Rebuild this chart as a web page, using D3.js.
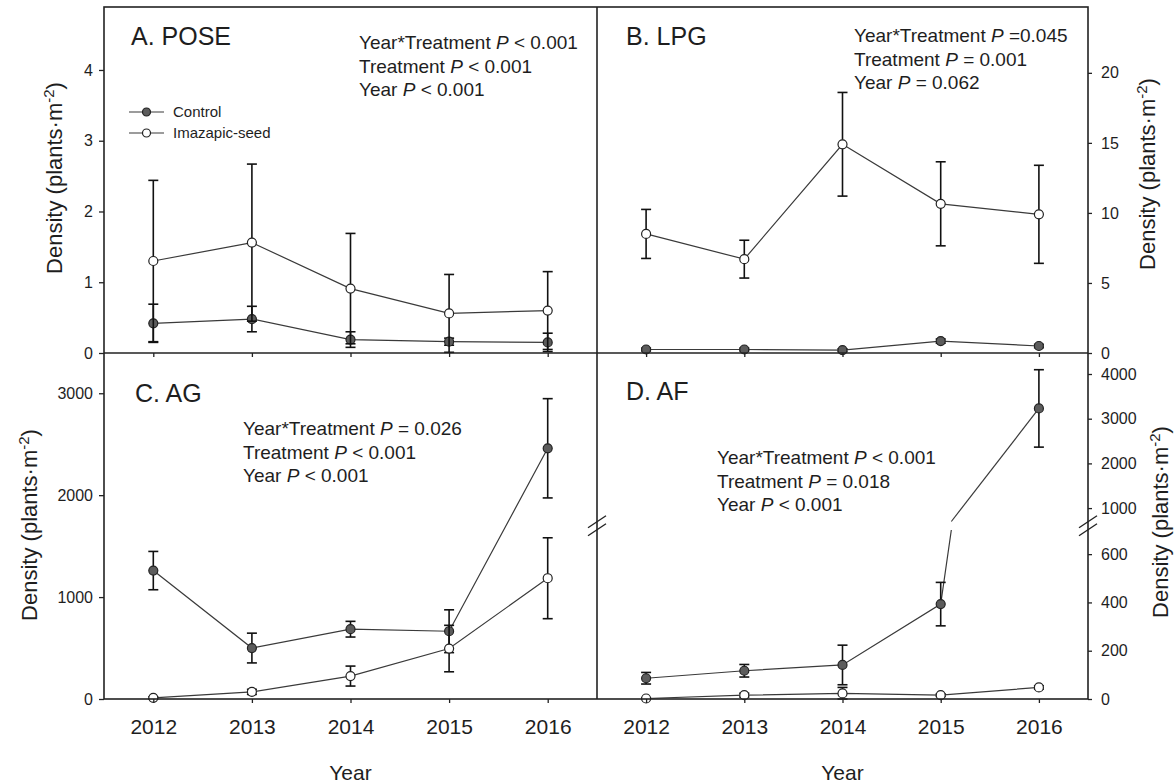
<!DOCTYPE html>
<html>
<head>
<meta charset="utf-8">
<script src="https://cdn.jsdelivr.net/npm/d3@7"></script>
<style>
  body { margin: 0; background: #fff; }
  text { font-family: "Liberation Sans", Arial, sans-serif; fill: #1e1e1e; }
</style>
</head>
<body>
<svg id="chart" width="1174" height="784"></svg>
<script>
// Years on the x axis.
const years = [2012, 2013, 2014, 2015, 2016];

// A. POSE
const poseControl = [0.42, 0.48, 0.19, 0.16, 0.15];
const poseControlSE = [0.27, 0.18, 0.11, 0.05, 0.13];
const poseSeed = [1.30, 1.56, 0.91, 0.56, 0.60];
const poseSeedSE = [1.14, 1.11, 0.78, 0.55, 0.55];

// B. LPG
const lpgControl = [0.25, 0.25, 0.2, 0.85, 0.5];
const lpgControlSE = [0.1, 0.1, 0.1, 0.15, 0.12];
const lpgSeed = [8.5, 6.7, 14.9, 10.65, 9.9];
const lpgSeedSE = [1.75, 1.35, 3.7, 3.0, 3.5];

// C. AG
const agControl = [1260, 500, 685, 665, 2460];
const agControlSE = [188, 146, 77, 210, 487];
const agSeed = [12, 70, 225, 495, 1185];
const agSeedSE = [10, 25, 98, 228, 397];

// D. AF
const afControl = [86, 117, 141, 393, 3230];
const afControlSE = [24, 26, 82, 90, 866];
const afSeed = [2, 16, 23, 16, 48];
const afSeedSE = [3, 8, 25, 5, 7];

// Tick values.
const poseTicks = [0, 1, 2, 3, 4];
const lpgTicks = [0, 5, 10, 15, 20];
const agTicks = [0, 1000, 2000, 3000];
const afTicksLow = [0, 200, 400, 600];
const afTicksHigh = [1000, 2000, 3000, 4000];

// Panel texts.
const panelTitles = ["A. POSE", "B. LPG", "C. AG", "D. AF"];
const poseStats = [["Year*Treatment ", " < 0.001"], ["Treatment ", " < 0.001"], ["Year ", " < 0.001"]];
const lpgStats = [["Year*Treatment ", " =0.045"], ["Treatment ", " = 0.001"], ["Year ", " = 0.062"]];
const agStats = [["Year*Treatment ", " = 0.026"], ["Treatment ", " < 0.001"], ["Year ", " < 0.001"]];
const afStats = [["Year*Treatment ", " < 0.001"], ["Treatment ", " = 0.018"], ["Year ", " < 0.001"]];
const legendLabels = ["Control", "Imazapic-seed"];

const svg = d3.select("#chart");

// Frame geometry.
const leftX = 104, midX = 597, rightX = 1088;
const topY = 7, midY = 353, bottomY = 699;
const afBreak = 700;

const xLeft = d3.scaleLinear().domain([2011.5, 2016.5]).range([leftX, midX]);
const xRight = d3.scaleLinear().domain([2011.5, 2016.5]).range([midX, rightX]);

const yA = d3.scaleLinear().domain([0, 4.89]).range([midY, topY]);
const yB = d3.scaleLinear().domain([0, 24.7]).range([midY, topY]);
const yC = d3.scaleLinear().domain([0, 3395]).range([bottomY, midY]);
const yDlow = d3.scaleLinear().domain([0, afBreak]).range([bottomY, 530]);
const yDhigh = d3.scaleLinear().domain([afBreak, 4470]).range([521.5, midY]);

function yD(v, side) {
    // Picks the lower or the upper part of the broken axis.
    if (side === "high" || (side === undefined && v > afBreak)) return yDhigh(v);
    return yDlow(v);
}

function wrap(scale) {
    return function(v) { return scale(v); };
}

function linePieces(vals, brk) {
    // Splits a series into pieces where it crosses the axis break.
    let out = [];
    let cur = [{x: years[0], v: vals[0]}];
    for (let i = 1; i < vals.length; i++) {
        let a = vals[i - 1], b = vals[i];
        if (brk !== undefined && (a - brk) * (b - brk) < 0) {
            let t = (brk - a) / (b - a);
            let xc = years[i - 1] + t;
            cur.push({x: xc, v: brk, side: a < brk ? "low" : "high"});
            out.push(cur);
            cur = [{x: xc, v: brk, side: a < brk ? "high" : "low"}, {x: years[i], v: b}];
        } else {
            cur.push({x: years[i], v: b});
        }
    }
    out.push(cur);
    return out;
}

function drawSeries(x, y, vals, se, filled, brk) {
    let g = svg.append("g");

    let line = d3.line()
        .x(d => x(d.x))
        .y(d => y(d.v, d.side));

    linePieces(vals, brk).forEach(function(p) {
        g.append("path")
            .attr("d", line(p))
            .attr("fill", "none")
            .attr("stroke", "#3a3a3a")
            .attr("stroke-width", 1.2);
    });

    return {g: g, vals: vals, se: se, filled: filled, x: x, y: y};
}

function drawErrors(s) {
    s.vals.forEach(function(v, i) {
        let lo = Math.max(0, v - s.se[i]);
        let hi = v + s.se[i];
        let cx = s.x(years[i]);
        let yl = s.y(lo), yh = s.y(hi);
        s.g.append("line").attr("x1", cx).attr("x2", cx).attr("y1", yl).attr("y2", yh)
            .attr("stroke", "#111").attr("stroke-width", 1.6);
        [yl, yh].forEach(function(yy) {
            s.g.append("line").attr("x1", cx - 5).attr("x2", cx + 5).attr("y1", yy).attr("y2", yy)
                .attr("stroke", "#111").attr("stroke-width", 1.6);
        });
    });
}

function drawMarkers(s) {
    s.vals.forEach(function(v, i) {
        s.g.append("circle")
            .attr("cx", s.x(years[i]))
            .attr("cy", s.y(v))
            .attr("r", 4.5)
            .attr("fill", s.filled ? "#5c5c5c" : "#fff")
            .attr("stroke", "#222")
            .attr("stroke-width", 1.2);
    });
}

function drawPanel(x, y, ctrl, ctrlSE, seed, seedSE, brk) {
    let sc = drawSeries(x, y, ctrl, ctrlSE, true, brk);
    let ss = drawSeries(x, y, seed, seedSE, false, brk);
    drawErrors(sc);
    drawErrors(ss);
    drawMarkers(sc);
    drawMarkers(ss);
}

drawPanel(xLeft, wrap(yA), poseControl, poseControlSE, poseSeed, poseSeedSE);
drawPanel(xRight, wrap(yB), lpgControl, lpgControlSE, lpgSeed, lpgSeedSE);
drawPanel(xLeft, wrap(yC), agControl, agControlSE, agSeed, agSeedSE);
drawPanel(xRight, yD, afControl, afControlSE, afSeed, afSeedSE, afBreak);

// Axes.
const plain = d => String(d);

function styleAxis(g, size) {
    g.select(".domain").remove();
    g.selectAll(".tick line").attr("stroke", "#222").attr("stroke-width", 1.3);
    g.selectAll(".tick text")
        .style("font-family", "'Liberation Sans', Arial, sans-serif")
        .style("font-size", size + "px")
        .attr("fill", "#1e1e1e");
}

svg.append("g").attr("transform", `translate(${leftX},0)`)
    .call(d3.axisLeft(yA).tickValues(poseTicks).tickFormat(plain).tickSize(5).tickPadding(6))
    .call(g => styleAxis(g, 16));

svg.append("g").attr("transform", `translate(${rightX},0)`)
    .call(d3.axisRight(yB).tickValues(lpgTicks).tickFormat(plain).tickSize(4).tickPadding(9))
    .call(g => styleAxis(g, 16));

svg.append("g").attr("transform", `translate(${leftX},0)`)
    .call(d3.axisLeft(yC).tickValues(agTicks).tickFormat(plain).tickSize(5).tickPadding(6))
    .call(g => styleAxis(g, 16));

svg.append("g").attr("transform", `translate(${rightX},0)`)
    .call(d3.axisRight(yDlow).tickValues(afTicksLow).tickFormat(plain).tickSize(4).tickPadding(9))
    .call(g => styleAxis(g, 16));

svg.append("g").attr("transform", `translate(${rightX},0)`)
    .call(d3.axisRight(yDhigh).tickValues(afTicksHigh).tickFormat(plain).tickSize(4).tickPadding(9))
    .call(g => styleAxis(g, 16));

[xLeft, xRight].forEach(function(x) {
    svg.append("g").attr("transform", `translate(0,${bottomY})`)
        .call(d3.axisBottom(x).tickValues(years).tickFormat(plain).tickSize(4).tickPadding(16))
        .call(g => styleAxis(g, 21));

    svg.append("g").attr("transform", `translate(0,${midY})`)
        .call(d3.axisBottom(x).tickValues(years).tickFormat("").tickSize(4))
        .call(g => styleAxis(g, 16));
});

// Frames.
const frame = svg.append("g").attr("stroke", "#222").attr("stroke-width", 1.6).attr("fill", "none");
frame.append("rect").attr("x", leftX).attr("y", topY).attr("width", rightX - leftX).attr("height", bottomY - topY);
frame.append("line").attr("x1", midX).attr("x2", midX).attr("y1", topY).attr("y2", bottomY);
frame.append("line").attr("x1", leftX).attr("x2", rightX).attr("y1", midY).attr("y2", midY);

// Break marks on the D axis.
const breakY = (yDlow(afBreak) + yDhigh(afBreak)) / 2;
[midX, rightX].forEach(function(bx) {
    [-4, 4].forEach(function(dy) {
        svg.append("line")
            .attr("x1", bx - 9).attr("y1", breakY + dy + 6)
            .attr("x2", bx + 9).attr("y2", breakY + dy - 6)
            .attr("stroke", "#222").attr("stroke-width", 1.3);
    });
});

// Titles.
const titlePos = [[131, 45], [626, 45], [135, 402], [626, 400]];
panelTitles.forEach(function(t, i) {
    svg.append("text").attr("x", titlePos[i][0]).attr("y", titlePos[i][1])
        .style("font-size", "25px").text(t);
});

// Statistics text.
function drawStats(lines, x, y0) {
    lines.forEach(function(l, i) {
        let t = svg.append("text").attr("x", x).attr("y", y0 + i * 23.5).style("font-size", "19px");
        t.append("tspan").text(l[0]);
        t.append("tspan").style("font-style", "italic").text("P");
        t.append("tspan").text(l[1]);
    });
}
drawStats(poseStats, 359, 49);
drawStats(lpgStats, 854, 42);
drawStats(agStats, 243, 435);
drawStats(afStats, 717, 464);

// Legend.
legendLabels.forEach(function(lab, i) {
    let ly = 112 + i * 21;
    svg.append("line").attr("x1", 129).attr("x2", 164).attr("y1", ly).attr("y2", ly)
        .attr("stroke", "#3a3a3a").attr("stroke-width", 1.2);
    svg.append("circle").attr("cx", 146.5).attr("cy", ly).attr("r", 4)
        .attr("fill", i === 0 ? "#5c5c5c" : "#fff").attr("stroke", "#222").attr("stroke-width", 1.2);
    svg.append("text").attr("x", 173).attr("y", ly + 5).style("font-size", "15px").text(lab);
});

// Axis titles.
function yTitle(x, y) {
    let t = svg.append("text")
        .attr("transform", `translate(${x},${y}) rotate(-90)`)
        .attr("text-anchor", "middle")
        .style("font-size", "22px");
    t.append("tspan").text("Density (plants\u00b7m");
    t.append("tspan").attr("dy", "-8").style("font-size", "15px").text("-2");
    t.append("tspan").attr("dy", "8").text(")");
}
yTitle(62, 178);
yTitle(37, 525);
yTitle(1155, 174);
yTitle(1168, 522);

[xLeft, xRight].forEach(function(x) {
    svg.append("text").attr("x", x(2014)).attr("y", 780)
        .attr("text-anchor", "middle").style("font-size", "21px").text("Year");
});
</script>
</body>
</html>
